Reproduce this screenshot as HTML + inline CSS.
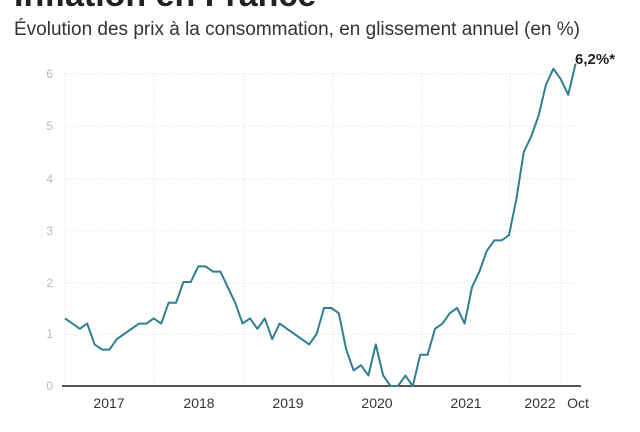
<!DOCTYPE html>
<html><head><meta charset="utf-8"><style>
body{margin:0;background:#fff;width:640px;height:427px;overflow:hidden;font-family:"Liberation Sans",sans-serif}
</style></head><body>
<svg width="640" height="427" xmlns="http://www.w3.org/2000/svg" font-family="Liberation Sans, sans-serif">
<text x="14" y="6" font-size="34" font-weight="bold" fill="#222">Inflation en France</text>
<text x="14" y="35" font-size="19" fill="#333" textLength="566" lengthAdjust="spacingAndGlyphs">Évolution des prix à la consommation, en glissement annuel (en %)</text>
<g stroke="#ddd" stroke-dasharray="1,2" stroke-width="1">
<line x1="62" y1="74" x2="580" y2="74"/><line x1="62" y1="126" x2="580" y2="126"/><line x1="62" y1="179" x2="580" y2="179"/><line x1="62" y1="231" x2="580" y2="231"/><line x1="62" y1="283" x2="580" y2="283"/><line x1="62" y1="334" x2="580" y2="334"/>
<line x1="65" y1="70" x2="65" y2="386"/><line x1="154" y1="70" x2="154" y2="386"/><line x1="244" y1="70" x2="244" y2="386"/><line x1="333" y1="70" x2="333" y2="386"/><line x1="422" y1="70" x2="422" y2="386"/><line x1="510" y1="70" x2="510" y2="386"/><line x1="561" y1="70" x2="561" y2="386"/>
</g>
<g font-size="12" fill="#bbb" text-anchor="end">
<text x="53" y="78">6</text><text x="53" y="130">5</text><text x="53" y="183">4</text><text x="53" y="235">3</text><text x="53" y="287">2</text><text x="53" y="338">1</text><text x="53" y="390">0</text>
</g>
<line x1="62" y1="386" x2="581" y2="386" stroke="#555" stroke-width="2"/>
<g font-size="14" fill="#333" text-anchor="middle">
<text x="109" y="408">2017</text><text x="199" y="408">2018</text><text x="288" y="408">2019</text><text x="377" y="408">2020</text><text x="466" y="408">2021</text><text x="540" y="408">2022</text><text x="578" y="408">Oct</text>
</g>
<polyline id="l" fill="none" stroke="#2e7f93" stroke-width="2" stroke-linejoin="round" points=""/>
<text x="575" y="64" font-size="15" font-weight="bold" fill="#222">6,2%*</text>
<script>
var v=[1.3,1.2,1.1,1.2,0.8,0.7,0.7,0.9,1.0,1.1,1.2,1.2,1.3,1.2,1.6,1.6,2.0,2.0,2.3,2.3,2.2,2.2,1.9,1.6,1.2,1.3,1.1,1.3,0.9,1.2,1.1,1.0,0.9,0.8,1.0,1.5,1.5,1.4,0.7,0.3,0.4,0.2,0.8,0.2,0.0,0.0,0.2,0.0,0.6,0.6,1.1,1.2,1.4,1.5,1.2,1.9,2.2,2.6,2.8,2.8,2.9,3.6,4.5,4.8,5.2,5.8,6.1,5.9,5.6,6.2];
document.getElementById('l').setAttribute('points',v.map(function(d,i){return (65+i*7.4).toFixed(1)+','+(386-d*52).toFixed(1)}).join(' '));
</script>
</svg>
</body></html>
